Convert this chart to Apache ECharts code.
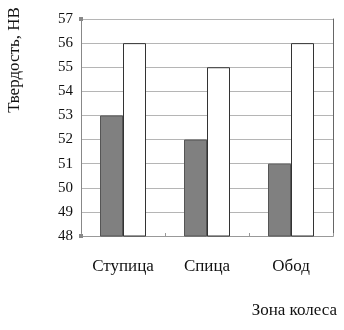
<!DOCTYPE html>
<html><head><meta charset="utf-8">
<script src="https://cdn.jsdelivr.net/npm/echarts@6/dist/echarts.min.js"></script>
<style>html,body{margin:0;padding:0;background:#fff}#c{width:344px;height:330px}</style>
</head><body><div id="c"></div>
<script>
const categories = ['Ступица', 'Спица', 'Обод'];
const seriesGray = [53, 52, 51];
const seriesWhite = [56, 55, 56];
const yMin = 48, yMax = 57, yStep = 1;
const yAxisName = 'Твердость, НВ';
const xAxisName = 'Зона колеса';
const font = 'Liberation Serif, Times New Roman, serif';

const chart = echarts.init(document.getElementById('c'), null, {renderer: 'canvas'});
chart.setOption({
  animation: false,
  backgroundColor: '#fff',
  grid: {left: 81, right: 11, top: 19, bottom: 94},
  xAxis: {
    type: 'category', data: categories,
    axisLine: {lineStyle: {color: '#999', width: 1}},
    axisTick: {show: true, inside: true, length: 3, lineStyle: {color: '#999'}},
    axisLabel: {color: '#111', fontFamily: font, fontSize: 17, margin: 22}
  },
  yAxis: [{
    type: 'value', min: yMin, max: yMax, interval: yStep,
    axisLine: {show: true, lineStyle: {color: '#888'}, symbol: ['rect', 'rect'], symbolSize: [4, 4]},
    axisTick: {show: false},
    axisLabel: {color: '#111', fontFamily: font, fontSize: 15, margin: 8},
    splitLine: {lineStyle: {color: '#b5b5b5', width: 1}}
  }, {
    type: 'value', min: yMin, max: yMax, interval: yStep, position: 'right',
    axisLine: {show: true, lineStyle: {color: '#666'}},
    axisTick: {show: false}, axisLabel: {show: false}, splitLine: {show: false}
  }],
  graphic: [{
    type: 'text', x: 15, y: 60, rotation: Math.PI / 2,
    style: {text: yAxisName, fill: '#111', font: '17px ' + font, textAlign: 'center', textVerticalAlign: 'middle'}
  }, {
    type: 'text', right: 7, top: 302,
    style: {text: xAxisName, fill: '#111', font: '17px ' + font}
  }],
  series: [{
    type: 'bar', data: seriesGray, barWidth: 23, barGap: '0%',
    itemStyle: {color: '#808080', borderColor: '#555', borderWidth: 1}
  }, {
    type: 'bar', data: seriesWhite, barWidth: 23,
    itemStyle: {color: '#fff', borderColor: '#333', borderWidth: 1}
  }]
});
</script></body></html>
